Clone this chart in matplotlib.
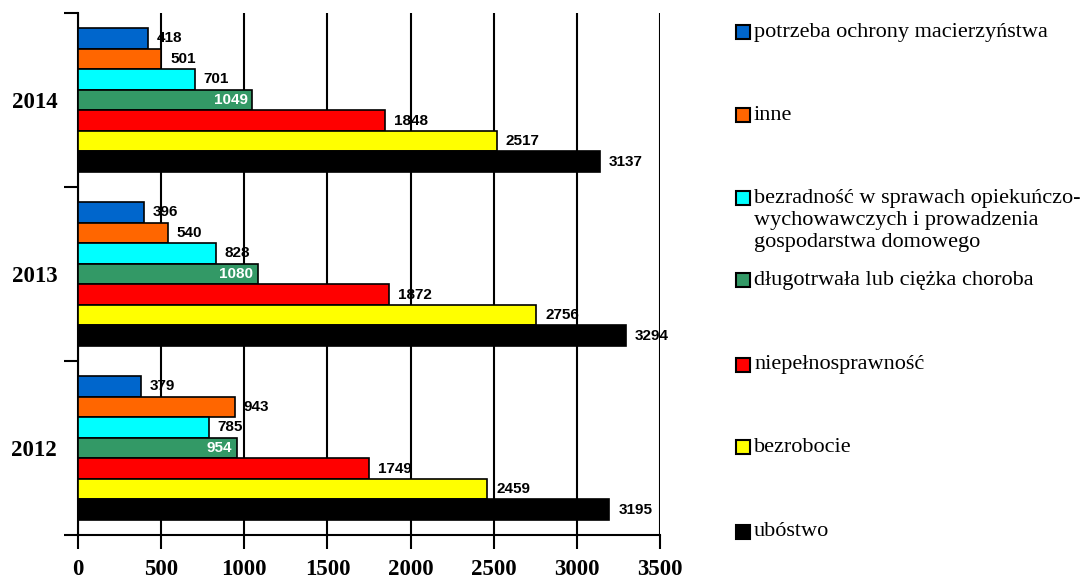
import numpy as np
import matplotlib
matplotlib.use('Agg')
from matplotlib import pyplot as plt
from matplotlib.patches import Rectangle

# dane
lata = ['2012', '2013', '2014']
kategorie = ['potrzeba ochrony macierzyństwa',
             'inne',
             'bezradność w sprawach opiekuńczo-\nwychowawczych i prowadzenia\ngospodarstwa domowego',
             'długotrwała lub ciężka choroba',
             'niepełnosprawność',
             'bezrobocie',
             'ubóstwo']
kolory = ['#0066CC', '#FF6600', '#00FFFF', '#339966', '#FF0000', '#FFFF00', '#000000']

# wartości dla lat 2012, 2013, 2014
potrzeba = [379, 396, 418]
inne = [943, 540, 501]
bezradnosc = [785, 828, 701]
choroba = [954, 1080, 1049]
niepelnosprawnosc = [1749, 1872, 1848]
bezrobocie = [2459, 2756, 2517]
ubostwo = [3195, 3294, 3137]
serie = [potrzeba, inne, bezradnosc, choroba, niepelnosprawnosc, bezrobocie, ubostwo]

W, H = 1090, 582
fig = plt.figure(figsize=(W / 100, H / 100), dpi=100)
ax = fig.add_axes([78 / W, 1 - 535 / H, 582 / W, 522 / H])

h = 0.118
y = np.arange(len(lata))
for i, (vals, c) in enumerate(zip(serie, kolory)):
    pos = y + (3 - i) * h
    ax.barh(pos, vals, height=h, color=c, edgecolor='black', linewidth=1.2, zorder=3)
    for p, v in zip(pos, vals):
        if i == 3:
            # zielony słupek - etykieta w środku, biała
            ax.text(v - 28, p, str(v), ha='right', va='center', color='white',
                    fontsize=11, fontweight='bold', family='Liberation Sans', zorder=4)
        else:
            ax.text(v + 55, p, str(v), ha='left', va='center', color='black',
                    fontsize=11, fontweight='bold', family='Liberation Sans', zorder=4)

ax.set_xlim(0, 3500)
ax.set_ylim(-0.5, 2.5)
ax.set_xticks(np.arange(0, 3501, 500))
ax.set_xticklabels([str(v) for v in range(0, 3501, 500)], fontsize=16.5,
                   fontweight='bold', family='Liberation Serif')
ax.set_yticks(y)
ax.set_yticklabels(lata, fontsize=16.5, fontweight='bold', family='Liberation Serif')
ax.set_yticks([-0.5, 0.5, 1.5, 2.5], minor=True)
ax.tick_params(axis='y', which='major', length=0, pad=15)
ax.tick_params(axis='y', which='minor', length=10, width=1.5, direction='out')
ax.tick_params(axis='x', length=10, width=1.5, direction='out', pad=7)
ax.grid(axis='x', color='black', linewidth=1.5, zorder=0)
ax.spines['top'].set_visible(False)
ax.spines['right'].set_visible(False)
ax.spines['left'].set_linewidth(1.5)
ax.spines['bottom'].set_linewidth(1.5)

# legenda
leg_y = [32, 115, 198, 280, 365, 447, 532]
for ly, lab, c in zip(leg_y, kategorie, kolory):
    fig.patches.append(Rectangle((736 / W, 1 - (ly + 7) / H), 14 / W, 14 / H,
                                 transform=fig.transFigure, facecolor=c,
                                 edgecolor='black', linewidth=1.5))
    if '\n' in lab:
        fig.text(754 / W, 1 - (ly - 9) / H, lab, ha='left', va='top',
                 fontsize=16, family='Liberation Serif', linespacing=1.2)
    else:
        fig.text(754 / W, 1 - ly / H, lab, ha='left', va='center',
                 fontsize=16, family='Liberation Serif')

plt.savefig('out.png', dpi=100)
